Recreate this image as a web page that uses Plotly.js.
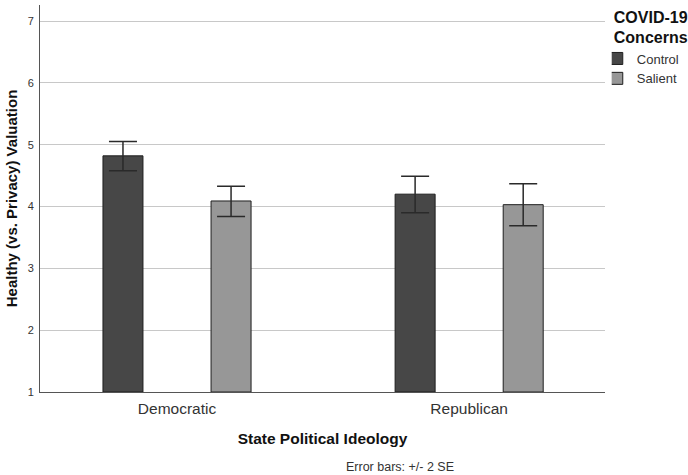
<!DOCTYPE html>
<html><head><meta charset="utf-8">
<script src="https://cdn.plot.ly/plotly-3.0.1.min.js"></script>
<style>html,body{margin:0;padding:0;background:#fff}#chart{width:688px;height:475px}</style>
</head><body><div id="chart"></div>
<script>
const categories = ["Democratic", "Republican"];
const seriesNames = ["Control", "Salient"];
const controlMeans = [4.82, 4.20];
const controlErrPlus = [0.23, 0.29];
const controlErrMinus = [0.24, 0.30];
const salientMeans = [4.09, 4.03];
const salientErrPlus = [0.24, 0.34];
const salientErrMinus = [0.25, 0.34];
const yTicks = [1, 2, 3, 4, 5, 6, 7];

const font = "Arial, 'Liberation Sans', sans-serif";
function trace(name, y, ep, em, color) {
  return {
    type: "bar", name: name, x: categories, y: y,
    marker: {color: color, line: {color: "#1e1e1e", width: 1}},
    error_y: {type: "data", symmetric: false, array: ep, arrayminus: em,
      color: "#2a2a2a", thickness: 1.5, width: 14},
    base: 1,
    hoverinfo: "none"
  };
}
const data = [
  trace(seriesNames[0], controlMeans.map(v => v - 1), controlErrPlus, controlErrMinus, "#474747"),
  trace(seriesNames[1], salientMeans.map(v => v - 1), salientErrPlus, salientErrMinus, "#979797")
];
const layout = {
  width: 688, height: 475,
  margin: {l: 40, r: 83, t: 5, b: 83, autoexpand: false},
  paper_bgcolor: "#fff", plot_bgcolor: "#fff",
  font: {family: font, color: "#333"},
  barmode: "group", bargap: 0.26, bargroupgap: 0.63,
  xaxis: {
    type: "category", range: [-0.469, 1.465],
    showline: true, linecolor: "#555", linewidth: 1, mirror: false,
    ticks: "", showgrid: false, ticklabelstandoff: 2,
    tickfont: {size: 15.5, color: "#333"},
    title: {text: "<b>State Political Ideology</b>", font: {size: 15.5, color: "#111"}, standoff: 17}
  },
  yaxis: {
    range: [1, 7.26], tickvals: yTicks, ticktext: yTicks.map(String),
    showline: true, linecolor: "#555", linewidth: 1,
    showgrid: true, gridcolor: "#c8c8c8", gridwidth: 1,
    zeroline: false, ticks: "", ticklabelstandoff: 3,
    tickfont: {size: 11, color: "#333"},
    title: {text: "<b>Healthy (vs. Privacy) Valuation</b>", font: {size: 15, color: "#111"}, standoff: 6}
  },
  legend: {
    x: 1.012, xanchor: "left", y: 1.008, yanchor: "top",
    title: {text: "<b>COVID-19<br>Concerns</b>", font: {size: 16, color: "#111"}},
    font: {size: 13, color: "#333"}, indentation: -15,
    tracegroupgap: 0, itemwidth: 30, traceorder: "normal"
  },
  annotations: [{
    text: "Error bars: +/- 2 SE", xref: "paper", yref: "paper",
    x: 0.638, y: -0.194, xanchor: "center", yanchor: "middle",
    showarrow: false, font: {size: 12.5, color: "#333"}
  }]
};
Plotly.newPlot("chart", data, layout, {staticPlot: true});
</script></body></html>
